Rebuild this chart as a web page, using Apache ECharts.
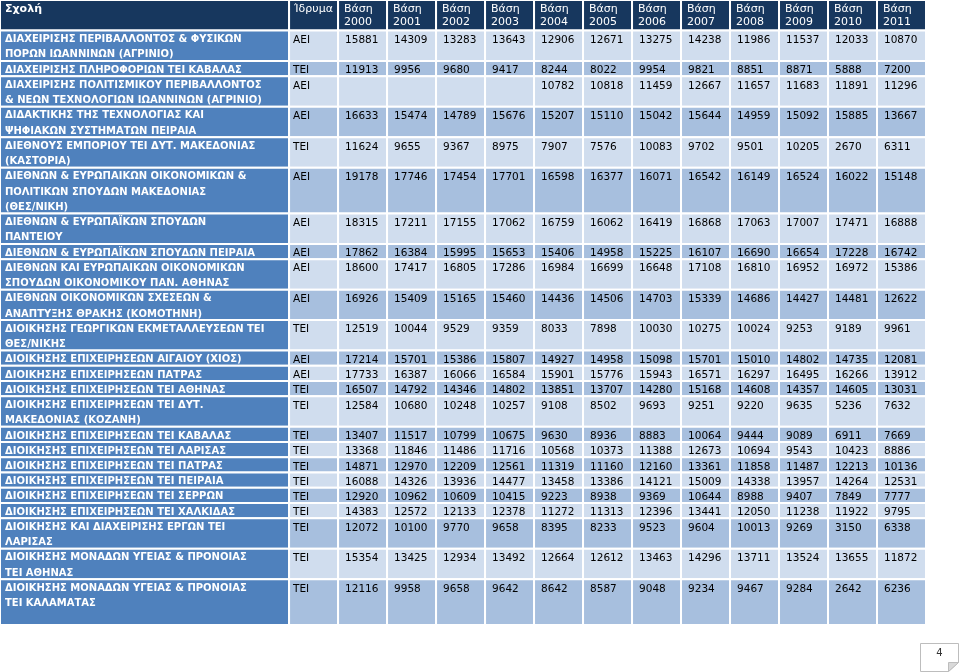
<!DOCTYPE html>
<html>
<head>
<meta charset="utf-8">
<script src="https://cdn.jsdelivr.net/npm/echarts@6/dist/echarts.min.js"></script>
<style>
  html, body { margin: 0; padding: 0; background: #fff; }
  #chart { width: 960px; height: 672px; }
</style>
</head>
<body>
<div id="chart"></div>
<script>
// table contents
const years = ['2000', '2001', '2002', '2003', '2004', '2005', '2006', '2007', '2008', '2009', '2010', '2011'];

const schools = [
  'ΔΙΑΧΕΙΡΙΣΗΣ ΠΕΡΙΒΑΛΛΟΝΤΟΣ & ΦΥΣΙΚΩΝ\nΠΟΡΩΝ ΙΩΑΝΝΙΝΩΝ (ΑΓΡΙΝΙΟ)',
  'ΔΙΑΧΕΙΡΙΣΗΣ ΠΛΗΡΟΦΟΡΙΩΝ ΤΕΙ ΚΑΒΑΛΑΣ',
  'ΔΙΑΧΕΙΡΙΣΗΣ ΠΟΛΙΤΙΣΜΙΚΟΥ ΠΕΡΙΒΑΛΛΟΝΤΟΣ\n& ΝΕΩΝ ΤΕΧΝΟΛΟΓΙΩΝ ΙΩΑΝΝΙΝΩΝ (ΑΓΡΙΝΙΟ)',
  'ΔΙΔΑΚΤΙΚΗΣ ΤΗΣ ΤΕΧΝΟΛΟΓΙΑΣ ΚΑΙ\nΨΗΦΙΑΚΩΝ ΣΥΣΤΗΜΑΤΩΝ ΠΕΙΡΑΙΑ',
  'ΔΙΕΘΝΟΥΣ ΕΜΠΟΡΙΟΥ ΤΕΙ ΔΥΤ. ΜΑΚΕΔΟΝΙΑΣ\n(ΚΑΣΤΟΡΙΑ)',
  'ΔΙΕΘΝΩΝ & ΕΥΡΩΠΑΙΚΩΝ ΟΙΚΟΝΟΜΙΚΩΝ &\nΠΟΛΙΤΙΚΩΝ ΣΠΟΥΔΩΝ ΜΑΚΕΔΟΝΙΑΣ\n(ΘΕΣ/ΝΙΚΗ)',
  'ΔΙΕΘΝΩΝ & ΕΥΡΩΠΑΪΚΩΝ ΣΠΟΥΔΩΝ\nΠΑΝΤΕΙΟΥ',
  'ΔΙΕΘΝΩΝ & ΕΥΡΩΠΑΪΚΩΝ ΣΠΟΥΔΩΝ ΠΕΙΡΑΙΑ',
  'ΔΙΕΘΝΩΝ ΚΑΙ ΕΥΡΩΠΑΙΚΩΝ ΟΙΚΟΝΟΜΙΚΩΝ\nΣΠΟΥΔΩΝ ΟΙΚΟΝΟΜΙΚΟΥ ΠΑΝ. ΑΘΗΝΑΣ',
  'ΔΙΕΘΝΩΝ ΟΙΚΟΝΟΜΙΚΩΝ ΣΧΕΣΕΩΝ &\nΑΝΑΠΤΥΞΗΣ ΘΡΑΚΗΣ (ΚΟΜΟΤΗΝΗ)',
  'ΔΙΟΙΚΗΣΗΣ ΓΕΩΡΓΙΚΩΝ ΕΚΜΕΤΑΛΛΕΥΣΕΩΝ ΤΕΙ\nΘΕΣ/ΝΙΚΗΣ',
  'ΔΙΟΙΚΗΣΗΣ ΕΠΙΧΕΙΡΗΣΕΩΝ ΑΙΓΑΙΟΥ (ΧΙΟΣ)',
  'ΔΙΟΙΚΗΣΗΣ ΕΠΙΧΕΙΡΗΣΕΩΝ ΠΑΤΡΑΣ',
  'ΔΙΟΙΚΗΣΗΣ ΕΠΙΧΕΙΡΗΣΕΩΝ ΤΕΙ ΑΘΗΝΑΣ',
  'ΔΙΟΙΚΗΣΗΣ ΕΠΙΧΕΙΡΗΣΕΩΝ ΤΕΙ ΔΥΤ.\nΜΑΚΕΔΟΝΙΑΣ (ΚΟΖΑΝΗ)',
  'ΔΙΟΙΚΗΣΗΣ ΕΠΙΧΕΙΡΗΣΕΩΝ ΤΕΙ ΚΑΒΑΛΑΣ',
  'ΔΙΟΙΚΗΣΗΣ ΕΠΙΧΕΙΡΗΣΕΩΝ ΤΕΙ ΛΑΡΙΣΑΣ',
  'ΔΙΟΙΚΗΣΗΣ ΕΠΙΧΕΙΡΗΣΕΩΝ ΤΕΙ ΠΑΤΡΑΣ',
  'ΔΙΟΙΚΗΣΗΣ ΕΠΙΧΕΙΡΗΣΕΩΝ ΤΕΙ ΠΕΙΡΑΙΑ',
  'ΔΙΟΙΚΗΣΗΣ ΕΠΙΧΕΙΡΗΣΕΩΝ ΤΕΙ ΣΕΡΡΩΝ',
  'ΔΙΟΙΚΗΣΗΣ ΕΠΙΧΕΙΡΗΣΕΩΝ ΤΕΙ ΧΑΛΚΙΔΑΣ',
  'ΔΙΟΙΚΗΣΗΣ ΚΑΙ ΔΙΑΧΕΙΡΙΣΗΣ ΕΡΓΩΝ ΤΕΙ\nΛΑΡΙΣΑΣ',
  'ΔΙΟΙΚΗΣΗΣ ΜΟΝΑΔΩΝ ΥΓΕΙΑΣ & ΠΡΟΝΟΙΑΣ\nΤΕΙ ΑΘΗΝΑΣ',
  'ΔΙΟΙΚΗΣΗΣ ΜΟΝΑΔΩΝ ΥΓΕΙΑΣ & ΠΡΟΝΟΙΑΣ\nΤΕΙ ΚΑΛΑΜΑΤΑΣ\n'
];

const institutions = [
  'ΑΕΙ', 'ΤΕΙ', 'ΑΕΙ', 'ΑΕΙ', 'ΤΕΙ', 'ΑΕΙ', 'ΑΕΙ', 'ΑΕΙ', 'ΑΕΙ', 'ΑΕΙ', 'ΤΕΙ', 'ΑΕΙ',
  'ΑΕΙ', 'ΤΕΙ', 'ΤΕΙ', 'ΤΕΙ', 'ΤΕΙ', 'ΤΕΙ', 'ΤΕΙ', 'ΤΕΙ', 'ΤΕΙ', 'ΤΕΙ', 'ΤΕΙ', 'ΤΕΙ'
];

// one row per school, one value per year (null = no intake that year)
const scores = [
  [15881, 14309, 13283, 13643, 12906, 12671, 13275, 14238, 11986, 11537, 12033, 10870],
  [11913, 9956, 9680, 9417, 8244, 8022, 9954, 9821, 8851, 8871, 5888, 7200],
  [null, null, null, null, 10782, 10818, 11459, 12667, 11657, 11683, 11891, 11296],
  [16633, 15474, 14789, 15676, 15207, 15110, 15042, 15644, 14959, 15092, 15885, 13667],
  [11624, 9655, 9367, 8975, 7907, 7576, 10083, 9702, 9501, 10205, 2670, 6311],
  [19178, 17746, 17454, 17701, 16598, 16377, 16071, 16542, 16149, 16524, 16022, 15148],
  [18315, 17211, 17155, 17062, 16759, 16062, 16419, 16868, 17063, 17007, 17471, 16888],
  [17862, 16384, 15995, 15653, 15406, 14958, 15225, 16107, 16690, 16654, 17228, 16742],
  [18600, 17417, 16805, 17286, 16984, 16699, 16648, 17108, 16810, 16952, 16972, 15386],
  [16926, 15409, 15165, 15460, 14436, 14506, 14703, 15339, 14686, 14427, 14481, 12622],
  [12519, 10044, 9529, 9359, 8033, 7898, 10030, 10275, 10024, 9253, 9189, 9961],
  [17214, 15701, 15386, 15807, 14927, 14958, 15098, 15701, 15010, 14802, 14735, 12081],
  [17733, 16387, 16066, 16584, 15901, 15776, 15943, 16571, 16297, 16495, 16266, 13912],
  [16507, 14792, 14346, 14802, 13851, 13707, 14280, 15168, 14608, 14357, 14605, 13031],
  [12584, 10680, 10248, 10257, 9108, 8502, 9693, 9251, 9220, 9635, 5236, 7632],
  [13407, 11517, 10799, 10675, 9630, 8936, 8883, 10064, 9444, 9089, 6911, 7669],
  [13368, 11846, 11486, 11716, 10568, 10373, 11388, 12673, 10694, 9543, 10423, 8886],
  [14871, 12970, 12209, 12561, 11319, 11160, 12160, 13361, 11858, 11487, 12213, 10136],
  [16088, 14326, 13936, 14477, 13458, 13386, 14121, 15009, 14338, 13957, 14264, 12531],
  [12920, 10962, 10609, 10415, 9223, 8938, 9369, 10644, 8988, 9407, 7849, 7777],
  [14383, 12572, 12133, 12378, 11272, 11313, 12396, 13441, 12050, 11238, 11922, 9795],
  [12072, 10100, 9770, 9658, 8395, 8233, 9523, 9604, 10013, 9269, 3150, 6338],
  [15354, 13425, 12934, 13492, 12664, 12612, 13463, 14296, 13711, 13524, 13655, 11872],
  [12116, 9958, 9658, 9642, 8642, 8587, 9048, 9234, 9467, 9284, 2642, 6236]
];

// styling
const FONT = '"DejaVu Sans", sans-serif';
const HEADER_BG = '#17375E';
const SCHOOL_BG = '#4F81BD';
const BAND_LIGHT = '#D0DDEE';
const BAND_DARK = '#A7BFDE';
const SCHOOL_SPAN = 5.9; // Σχολή column width, in year-column units
const HEADER_LINES = 2;

// build the cells: x in column units, y in text-line units
const cells = [];
const cellInfo = [];

function addCell(x0, y0, x1, y1, info) {
  cells.push([x0, y0, x1, y1]);
  cellInfo.push(info);
}

// header row
addCell(0, 0, SCHOOL_SPAN, HEADER_LINES, { text: 'Σχολή', fill: HEADER_BG, color: '#fff', weight: 'bold', size: 11, padX: 5, padY: 3, lh: 13 });
addCell(SCHOOL_SPAN, 0, SCHOOL_SPAN + 1, HEADER_LINES, { text: 'Ίδρυμα', fill: HEADER_BG, color: '#fff', weight: 'normal', size: 11, padX: 5, padY: 3, lh: 13 });
years.forEach((y, k) => {
  addCell(SCHOOL_SPAN + 1 + k, 0, SCHOOL_SPAN + 2 + k, HEADER_LINES,
    { text: 'Βάση\n' + y, fill: HEADER_BG, color: '#fff', weight: 'normal', size: 11, padX: 6, padY: 3, lh: 13 });
});

// body rows, height follows the number of text lines in the school name
let rowTop = HEADER_LINES;
schools.forEach((name, r) => {
  const lines = name.split('\n').length;
  const band = r % 2 === 0 ? BAND_LIGHT : BAND_DARK;
  const bottom = rowTop + lines;
  addCell(0, rowTop, SCHOOL_SPAN, bottom, { text: name, fill: SCHOOL_BG, color: '#fff', weight: 'bold', size: 10, padX: 5, padY: 1.5, lh: 15.2 });
  addCell(SCHOOL_SPAN, rowTop, SCHOOL_SPAN + 1, bottom, { text: institutions[r], fill: band, color: '#000', weight: 'normal', size: 10.5, padX: 4, padY: 2, lh: 15.2 });
  scores[r].forEach((v, k) => {
    addCell(SCHOOL_SPAN + 1 + k, rowTop, SCHOOL_SPAN + 2 + k, bottom,
      { text: v == null ? '' : String(v), fill: band, color: '#000', weight: 'normal', size: 10.5, padX: 7, padY: 2, lh: 15.2 });
  });
  rowTop = bottom;
});
const totalLines = rowTop;

function renderCell(params, api) {
  const info = cellInfo[params.dataIndex];
  const p0 = api.coord([api.value(0), api.value(1)]);
  const p1 = api.coord([api.value(2), api.value(3)]);
  return {
    type: 'group',
    children: [
      {
        type: 'rect',
        shape: { x: p0[0], y: p0[1], width: p1[0] - p0[0], height: p1[1] - p0[1] },
        style: { fill: info.fill, stroke: '#fff', lineWidth: 2 }
      },
      {
        type: 'text',
        style: {
          x: p0[0] + info.padX,
          y: p0[1] + info.padY,
          text: info.text,
          fill: info.color,
          fontFamily: FONT,
          fontSize: info.size,
          fontWeight: info.weight,
          lineHeight: info.lh,
          align: 'left',
          verticalAlign: 'top'
        }
      }
    ]
  };
}

const chart = echarts.init(document.getElementById('chart'), null, { renderer: 'canvas' });

chart.setOption({
  animation: false,
  backgroundColor: '#fff',
  grid: { left: 0, top: 0, width: 926, height: 625 },
  xAxis: { type: 'value', min: 0, max: SCHOOL_SPAN + 1 + years.length, show: false },
  yAxis: { type: 'value', min: 0, max: totalLines, inverse: true, show: false },
  series: [{
    type: 'custom',
    silent: true,
    clip: false,
    renderItem: renderCell,
    encode: { x: [0, 2], y: [1, 3] },
    data: cells
  }],
  // page number tab, bottom right
  graphic: [{
    type: 'group',
    left: 920,
    top: 643,
    children: [
      {
        type: 'polygon',
        shape: { points: [[0, 0], [38, 0], [38, 19], [28, 28], [0, 28]] },
        style: { fill: '#fff', stroke: '#bdbdbd', lineWidth: 1 }
      },
      {
        type: 'polygon',
        shape: { points: [[38, 19], [28, 19], [28, 28]] },
        style: { fill: '#d9d9d9', stroke: '#bdbdbd', lineWidth: 1 }
      },
      {
        type: 'text',
        style: { x: 19, y: 10, text: '4', fill: '#333', fontFamily: FONT, fontSize: 10, align: 'center', verticalAlign: 'middle' }
      }
    ]
  }]
});
</script>
</body>
</html>
